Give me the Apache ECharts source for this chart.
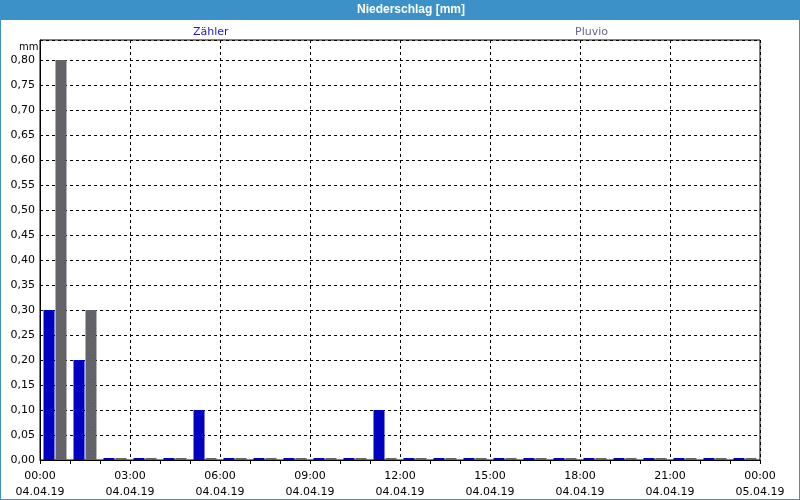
<!DOCTYPE html>
<html>
<head>
<meta charset="utf-8">
<script src="https://cdn.jsdelivr.net/npm/echarts@6/dist/echarts.min.js"></script>
<style>html,body{margin:0;padding:0;background:#fff}#c{width:800px;height:500px}</style>
</head>
<body>
<div id="c"></div>
<script>
var hours = ['00','01','02','03','04','05','06','07','08','09','10','11','12','13','14','15','16','17','18','19','20','21','22','23'];
var zaehler = [0.30,0.20,0,0,0,0.10,0,0,0,0,0,0.10,0,0,0,0,0,0,0,0,0,0,0,0];
var pluvio  = [0.80,0.30,0,0,0,0,0,0,0,0,0,0,0,0,0,0,0,0,0,0,0,0,0,0];
var timeLabels = ['00:00','03:00','06:00','09:00','12:00','15:00','18:00','21:00','00:00'];
var dateLabels = ['04.04.19','04.04.19','04.04.19','04.04.19','04.04.19','04.04.19','04.04.19','04.04.19','05.04.19'];
var yTicks = [0,0.05,0.10,0.15,0.20,0.25,0.30,0.35,0.40,0.45,0.50,0.55,0.60,0.65,0.70,0.75,0.80];

var FONT = 'DejaVu Sans';

// dotted pattern for the grey bars
var pat = document.createElement('canvas');
pat.width = 6; pat.height = 6;
var pc = pat.getContext('2d');
pc.fillStyle = '#646464'; pc.fillRect(0,0,6,6);
pc.fillStyle = '#56567e'; pc.fillRect(1,1,1,1); pc.fillRect(4,4,1,1);

var chart = echarts.init(document.getElementById('c'), null, {renderer:'canvas'});
var option = {
  animation: false,
  backgroundColor: '#fff',
  textStyle: {fontFamily: FONT},
  grid: {left: 40, right: 40, top: 40, bottom: 40, show: true, borderColor: '#000', borderWidth: 1},
  legend: [
    {data: [{name:'Zähler', textStyle:{color:'#1a1acc'}}], icon:'none', itemWidth:0, left: 188, top: 25, padding:0,
     textStyle:{fontFamily:FONT, fontSize:11}},
    {data: [{name:'Pluvio', textStyle:{color:'#66668a'}}], icon:'none', itemWidth:0, left: 570, top: 25, padding:0,
     textStyle:{fontFamily:FONT, fontSize:11}}
  ],
  xAxis: [
    {type:'category', data: hours, boundaryGap: true,
     axisLine:{show:true, lineStyle:{color:'#000', width:1}},
     axisTick:{show:true, length:4, inside:false, interval:0, lineStyle:{color:'#000'}},
     axisLabel:{show:false},
     splitLine:{show:true, interval: function(i){ return i % 3 === 0; }, lineStyle:{color:'#000', type:[3,3], width:1}}
    },
    {type:'value', min:0, max:24, interval:3, position:'bottom',
     axisLine:{show:false}, axisTick:{show:false}, splitLine:{show:false},
     axisLabel:{show:true, color:'#000', fontFamily:FONT, fontSize:11, lineHeight:16, margin:8,
       formatter:function(v){ var i = Math.round(v/3); return timeLabels[i] + '\n' + dateLabels[i]; }}
    }
  ],
  yAxis: {type:'value', min:0, max:0.84, interval:0.05,
    axisLine:{show:true, lineStyle:{color:'#000'}},
    axisTick:{show:false},
    axisLabel:{color:'#000', fontFamily:FONT, fontSize:11, margin:5, showMaxLabel:false,
      formatter:function(v){ return yTicks.indexOf(Math.round(v*100)/100) >= 0 ? v.toFixed(2).replace('.', ',') : ''; }},
    splitLine:{show:true, lineStyle:{color:'#000', type:[3,3], width:1}}
  },
  series: [
    {name:'Zähler', type:'bar', xAxisIndex:0, data: zaehler, barWidth: 11, barGap:'9%', barMinHeight: 2,
     itemStyle:{color:'#0000c0', borderWidth:0, borderColor:'#0000c0'},
     emphasis:{disabled:true}},
    {name:'Pluvio', type:'bar', xAxisIndex:0, data: pluvio, barWidth: 11, barMinHeight: 2,
     itemStyle:{color:{image: pat, repeat:'repeat'}, borderWidth:0},
     emphasis:{disabled:true}}
  ],
  graphic: [
    {type:'rect', shape:{x:0, y:0, width:800, height:20}, style:{fill:'#3c92c8'}, z:100, silent:true},
    {type:'rect', shape:{x:0, y:0, width:800, height:500}, style:{fill:null, stroke:'#3c92c8', lineWidth:2}, z:100, silent:true},
    {type:'text', left:357, top:4, style:{text:'Niederschlag [mm]', fill:'#fff', font:'bold 12px "Liberation Sans"'}, z:101, silent:true},
    {type:'text', left: 19, top: 42, style:{text:'mm', fill:'#000', font:'10px "DejaVu Sans"'}, z:101, silent:true}
  ]
};
chart.setOption(option);
</script>
</body>
</html>
